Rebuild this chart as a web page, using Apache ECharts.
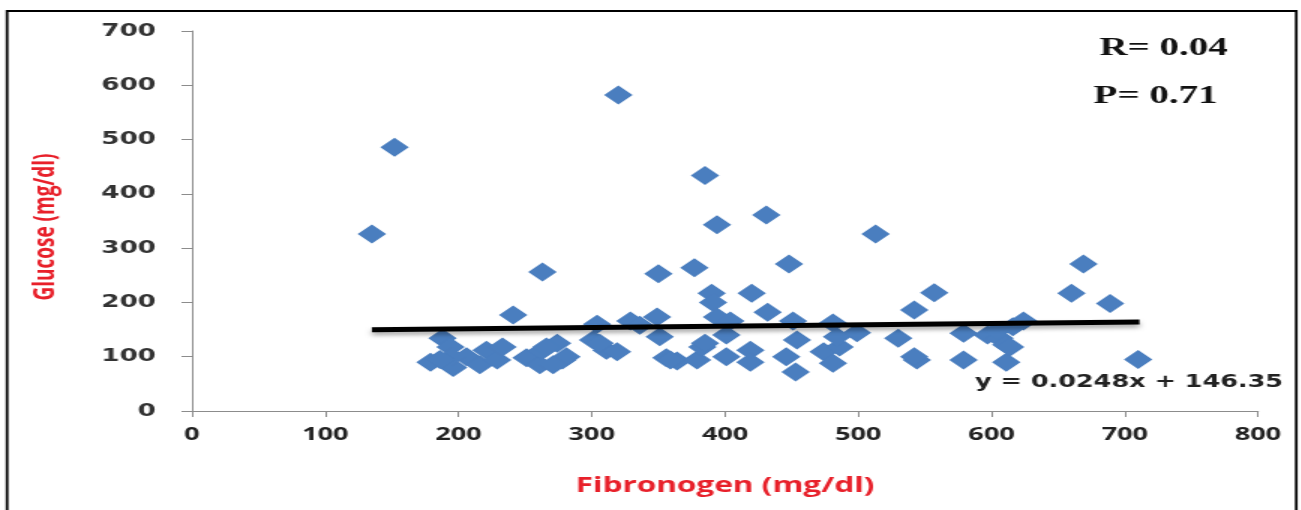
<!DOCTYPE html>
<html>
<head>
<meta charset="utf-8">
<script src="https://cdn.jsdelivr.net/npm/echarts@6/dist/echarts.min.js"></script>
<style>
  html, body { margin: 0; padding: 0; background: #fff; overflow: hidden; width: 1301px; height: 510px; }
  #chart { width: 867.33px; height: 510px; transform: scaleX(1.5); transform-origin: 0 0; }
</style>
</head>
<body>
<div id="chart"></div>
<script>
// Fibrinogen (mg/dl) values of each point
const fibrinogen = [135,152,320,385,394,431,513,448,377,263,350,669,660,689,557,420,390,542,241,710,
  188,179,194,196,206,216,221,229,233,251,261,263,274,278,281,271,301,304,311,319,306,195,186,
  329,349,351,356,364,379,383,391,394,404,401,401,336,
  419,419,432,451,454,446,453,474,481,481,486,499,484,
  530,544,542,579,579,597,606,611,611,616,624,604,614,266,385,359];
// Glucose (mg/dl) values of each point
const glucose = [326,486,582,434,343,361,326,271,264,256,253,271,217,198,218,217,217,186,177,95,
  134,90,118,80,100,85,112,94,118,98,85,112,125,94,100,85,131,160,112,109,125,100,95,
  166,173,137,98,92,94,118,200,173,166,140,100,158,
  112,90,182,166,131,100,72,109,88,162,118,144,137,
  134,94,100,94,143,140,134,122,90,155,166,148,118,118,125,94];
// Trend line end points, y = 0.0248x + 146.35
const trendX = [135, 711];
const trendY = [149.7, 164.0];
const xTicks = [0, 800, 100];
const yTicks = [0, 700, 100];
const annotations = ['R= 0.04', 'P= 0.71', 'y = 0.0248x + 146.35'];
const xName = 'Fibronogen (mg/dl)';
const yName = 'Glucose (mg/dl)';

const points = fibrinogen.map((x, i) => [x, glucose[i]]);
const trend = trendX.map((x, i) => [x, trendY[i]]);

const chart = echarts.init(document.getElementById('chart'));
chart.setOption({
  animation: false,
  backgroundColor: '#fff',
  grid: { left: 128, right: 28.3, top: 31, bottom: 99 },
  xAxis: {
    type: 'value', min: xTicks[0], max: xTicks[1], interval: xTicks[2],
    name: xName, nameLocation: 'middle', nameGap: 65,
    nameTextStyle: { color: '#e8202a', fontFamily: 'Open Sans', fontWeight: 'bold', fontSize: 21 },
    axisLine: { lineStyle: { color: '#8c8c8c', width: 1.2 } },
    axisTick: { show: true, length: 6, lineStyle: { color: '#8c8c8c' } },
    axisLabel: { margin: 15, color: '#222', fontFamily: 'Open Sans', fontWeight: 'bold', fontSize: 18 },
    splitLine: { show: false }
  },
  yAxis: {
    type: 'value', min: yTicks[0], max: yTicks[1], interval: yTicks[2],
    name: yName, nameLocation: 'middle', nameGap: 88, nameRotate: 90,
    nameTextStyle: { color: '#e8202a', fontFamily: 'Open Sans', fontWeight: 'bold', fontSize: 19, padding: [0, 12, 0, 0] },
    axisLine: { show: true, lineStyle: { color: '#8c8c8c', width: 1 } },
    axisTick: { show: true, length: 7, lineStyle: { color: '#8c8c8c' } },
    axisLabel: { margin: 24, color: '#333', fontFamily: 'DejaVu Sans', fontWeight: 'bold', fontSize: 17.5 },
    splitLine: { show: false }
  },
  graphic: [
    { type: 'rect', shape: { x: 4.7, y: 11, width: 859.5, height: 600 },
      style: { fill: 'none', stroke: '#000', lineWidth: 1.8 }, silent: true },
    { type: 'text', left: 733, top: 35, style: { text: annotations[0], fill: '#111',
      font: 'bold 26px "Liberation Serif"' } },
    { type: 'text', left: 729, top: 83, style: { text: annotations[1], fill: '#111',
      font: 'bold 26px "Liberation Serif"' } },
    { type: 'text', left: 650, top: 374, style: { text: annotations[2], fill: '#222',
      font: 'bold 17px "DejaVu Sans"' } }
  ],
  series: [
    {
      type: 'scatter', data: points, symbol: 'diamond', symbolSize: [19, 19],
      itemStyle: { color: '#4a7ebf', opacity: 1 }, z: 2
    },
    {
      type: 'line', data: trend, symbol: 'none', z: 3,
      lineStyle: { color: '#000', width: 5, shadowColor: 'rgba(0,0,0,0.35)', shadowBlur: 4, shadowOffsetY: 3 }
    }
  ]
});
</script>
</body>
</html>
